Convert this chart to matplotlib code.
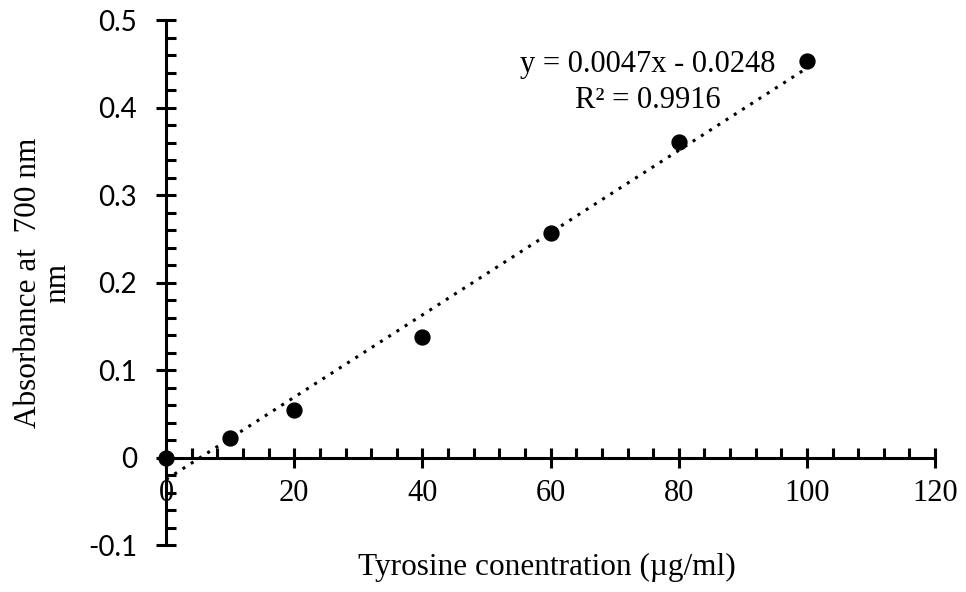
import numpy as np
import matplotlib.pyplot as plt
from matplotlib.ticker import MultipleLocator

# tyrosine standard curve
conc = [0, 10, 20, 40, 60, 80, 100]
absorb = [0.0, 0.023, 0.055, 0.138, 0.257, 0.361, 0.453]
slope = 0.0047
intercept = -0.0248
eq_text = "y = 0.0047x - 0.0248"
r2_text = "R² = 0.9916"
xticks = [0, 20, 40, 60, 80, 100, 120]
yticks = [-0.1, 0, 0.1, 0.2, 0.3, 0.4, 0.5]
ylabels = ["-0.1", "0", "0.1", "0.2", "0.3", "0.4", "0.5"]

serif = "Liberation Serif"
sans = "Lato"

fig = plt.figure(figsize=(9.66, 5.92), dpi=100)
ax = fig.add_axes([0.172, 0.079, 0.796, 0.887])

# dotted trendline over data range
xs = np.array([conc[0], conc[-1]])
ax.plot(xs, slope * xs + intercept, color="black", linestyle=(0, (1, 2.2)), linewidth=2.2)
ax.scatter(conc, absorb, s=115, color="black", zorder=3, clip_on=False)

ax.set_xlim(0, 120)
ax.set_ylim(-0.1, 0.5)

# axes cross at zero, excel style
ax.spines["left"].set_position(("data", 0))
ax.spines["bottom"].set_position(("data", 0))
ax.spines["right"].set_visible(False)
ax.spines["top"].set_visible(False)
for s in ["left", "bottom"]:
    ax.spines[s].set_linewidth(2.2)

ax.xaxis.set_minor_locator(MultipleLocator(4))
ax.yaxis.set_minor_locator(MultipleLocator(0.02))
ax.tick_params(which="major", direction="inout", length=14, width=2.2)
ax.tick_params(which="minor", direction="in", length=7, width=2.2)
ax.tick_params(axis="x", which="major", pad=8)
ax.tick_params(axis="y", which="major", pad=14)

ax.set_xticks(xticks)
ax.set_xticklabels([str(v) for v in xticks], fontfamily=serif, fontsize=22)
ax.set_yticks(yticks)
ax.set_yticklabels(ylabels, fontfamily=sans, fontsize=20)

fig.text(0.566, 0.029, "Tyrosine conentration (µg/ml)", fontfamily=serif, fontsize=22.5,
         ha="center", va="baseline")
fig.text(0.045, 0.522, "Absorbance at  700 nm\nnm", fontfamily=serif, fontsize=22.5,
         rotation=90, ha="center", va="center", multialignment="center", linespacing=1.0)

ax.text(75.2, 0.4, eq_text + "\n" + r2_text, fontfamily=serif, fontsize=22,
        ha="center", va="baseline", multialignment="center", linespacing=1.3)

fig.savefig("out.png", dpi=100)
